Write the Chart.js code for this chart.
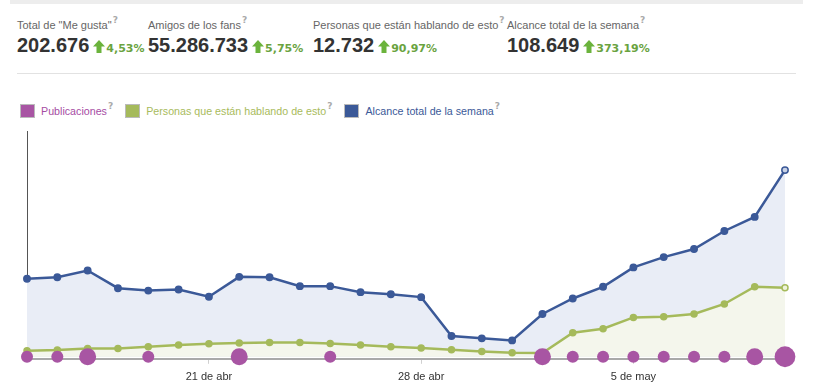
<!DOCTYPE html>
<html>
<head>
<meta charset="utf-8">
<script src="https://cdn.jsdelivr.net/npm/chart.js@4.4.1/dist/chart.umd.min.js"></script>
<style>
  body { margin: 0; background: #fff; width: 818px; height: 390px; overflow: hidden; position: relative; font-family: "Liberation Sans", Arial, sans-serif; }
  .topbar { position: absolute; left: 10px; top: 0; width: 793px; height: 4px; background: #ededed; }
  .sep { position: absolute; left: 17px; top: 73px; width: 779px; height: 1px; background: #e2e2e2; }
  .stat { position: absolute; top: 15px; white-space: nowrap; }
  .stat .lbl { font-size: 11px; color: #666; height: 16px; }
  .stat .val { margin-top: 3px; font-size: 20px; font-weight: bold; color: #333; }
  .stat .pct { font-family: "DejaVu Sans", Verdana, sans-serif; font-size: 11px; font-weight: bold; color: #6aa33f; }
  .q { font-family: "DejaVu Sans", sans-serif; font-size: 9px; font-weight: bold; color: #aaa; vertical-align: 6px; margin-left: 1px; }
  .arrow { display: inline-block; width: 12px; height: 13px; vertical-align: -1px; margin-left: 4px; margin-right: 1px; }
  .legend { position: absolute; top: 101px; left: 20px; white-space: nowrap; font-size: 10.7px; }
  .legend span.item { margin-right: 12px; }
  .sw { display: inline-block; width: 13px; height: 12px; border: 1px solid #bbb; vertical-align: -3px; margin-right: 6px; box-sizing: content-box; }
  #wrap { position: absolute; left: 0; top: 120px; width: 818px; height: 277px; }
</style>
</head>
<body>
<div class="topbar"></div>
<div id="stats"></div>
<div class="sep"></div>
<div class="legend" id="legend"></div>
<div id="wrap"><canvas id="grafico"></canvas></div>
<script>
// resumen de la cabecera
const resumenTitulos = ['Total de "Me gusta"', 'Amigos de los fans', 'Personas que están hablando de esto', 'Alcance total de la semana'];
const resumenValores = ['202.676', '55.286.733', '12.732', '108.649'];
const resumenCambios = ['4,53%', '5,75%', '90,97%', '373,19%'];

// eje x: un punto por día, 15 de abr - 10 de may
const dias = ['15 de abr', '16 de abr', '17 de abr', '18 de abr', '19 de abr', '20 de abr', '21 de abr',
    '22 de abr', '23 de abr', '24 de abr', '25 de abr', '26 de abr', '27 de abr', '28 de abr',
    '29 de abr', '30 de abr', '1 de may', '2 de may', '3 de may', '4 de may', '5 de may',
    '6 de may', '7 de may', '8 de may', '9 de may', '10 de may'];
const marcasX = ['21 de abr', '28 de abr', '5 de may'];

// series
const publicaciones = [1, 1, 2, 0, 1, 0, 0, 2, 0, 0, 1, 0, 0, 0, 0, 0, 0, 2, 1, 1, 1, 1, 1, 1, 2, 3];
const hablando = [1110, 1240, 1540, 1540, 1850, 2160, 2400, 2530, 2650, 2650, 2460, 2160, 1850, 1610,
    1300, 980, 740, 680, 4440, 5180, 7270, 7400, 7900, 9750, 12950, 12732];
const alcance = [45400, 46300, 50200, 39900, 38500, 39100, 34900, 46500, 46300, 41100, 41100, 37600, 36400, 34700,
    12100, 10700, 9500, 24900, 33900, 40700, 52000, 58000, 62700, 73200, 81400, 108649];

const leyenda = ['Publicaciones', 'Personas que están hablando de esto', 'Alcance total de la semana'];

const MORADO = '#a855a3';
const VERDE = '#a5ba5b';
const AZUL = '#3b5998';

const flecha = '<svg class="arrow" viewBox="0 0 12 13"><path d="M6 0 L12 6.5 L8.5 6.5 L8.5 13 L3.5 13 L3.5 6.5 L0 6.5 Z" fill="#6bb33c"/></svg>';
const statX = [17, 148, 313, 507];
document.getElementById('stats').innerHTML = resumenTitulos.map((t, i) => `
    <div class="stat" style="left:${statX[i]}px">
        <div class="lbl">${t}<span class="q">?</span></div>
        <div class="val">${resumenValores[i]}${flecha}<span class="pct">${resumenCambios[i]}</span></div>
    </div>`).join('');

const colores = [MORADO, VERDE, AZUL];
const textoColores = ['#a64ca3', '#a8bb5c', '#3b5998'];
document.getElementById('legend').innerHTML = leyenda.map((t, i) =>
    `<span class="item"><span class="sw" style="background:${colores[i]}"></span><span style="color:${textoColores[i]}">${t}</span><span class="q">?</span></span>`
).join('');

const ultimo = dias.length - 1;

new Chart(document.getElementById('grafico'), {
    type: 'line',
    data: {
        labels: dias,
        datasets: [
            {
                label: leyenda[0],
                data: publicaciones.map(n => n > 0 ? 0 : null),
                showLine: false,
                yAxisID: 'y',
                clip: false,
                pointBackgroundColor: MORADO,
                pointBorderColor: MORADO,
                pointBorderWidth: 0,
                pointRadius: ctx => 6 * Math.sqrt(publicaciones[ctx.dataIndex] || 0),
                pointHoverRadius: ctx => 6 * Math.sqrt(publicaciones[ctx.dataIndex] || 0),
            },
            {
                label: leyenda[1],
                data: hablando,
                yAxisID: 'y1',
                borderColor: VERDE,
                borderWidth: 2.5,
                backgroundColor: '#f4f6ec',
                fill: 'origin',
                tension: 0,
                clip: false,
                pointRadius: 3,
                pointBorderWidth: 1.5,
                pointBorderColor: VERDE,
                pointBackgroundColor: ctx => ctx.dataIndex === ultimo ? '#eef2dc' : VERDE,
            },
            {
                label: leyenda[2],
                data: alcance,
                yAxisID: 'y',
                borderColor: AZUL,
                borderWidth: 2.5,
                backgroundColor: '#e9edf6',
                fill: 'origin',
                tension: 0,
                clip: false,
                pointRadius: 3.2,
                pointBorderWidth: 1.5,
                pointBorderColor: AZUL,
                pointBackgroundColor: ctx => ctx.dataIndex === ultimo ? '#c9d2e6' : AZUL,
            },
        ],
    },
    options: {
        responsive: true,
        maintainAspectRatio: false,
        animation: false,
        layout: { padding: { left: 19, right: 33, top: 11, bottom: 6 } },
        plugins: {
            legend: { display: false },
            tooltip: { enabled: false },
        },
        scales: {
            x: {
                offset: false,
                grid: {
                    display: true,
                    drawOnChartArea: false,
                    drawTicks: true,
                    tickLength: 5,
                    color: ctx => (ctx.tick && marcasX.includes(dias[ctx.tick.value])) ? '#d0d0d0' : 'rgba(0,0,0,0)',
                },
                border: { display: true, color: '#a9a9a9', width: 2 },
                ticks: {
                    autoSkip: false,
                    maxRotation: 0,
                    padding: 7,
                    color: '#333',
                    font: { family: '"Liberation Sans", Arial, sans-serif', size: 11 },
                    callback: (v, i) => marcasX.includes(dias[i]) ? dias[i] : null,
                },
            },
            y: {
                position: 'left',
                min: -1200,
                max: 131400,
                ticks: { display: false },
                grid: { display: false },
                border: { display: true, color: '#555', width: 1 },
            },
            y1: {
                display: false,
                min: -380,
                max: 41700,
            },
        },
    },
});
</script>
</body>
</html>
